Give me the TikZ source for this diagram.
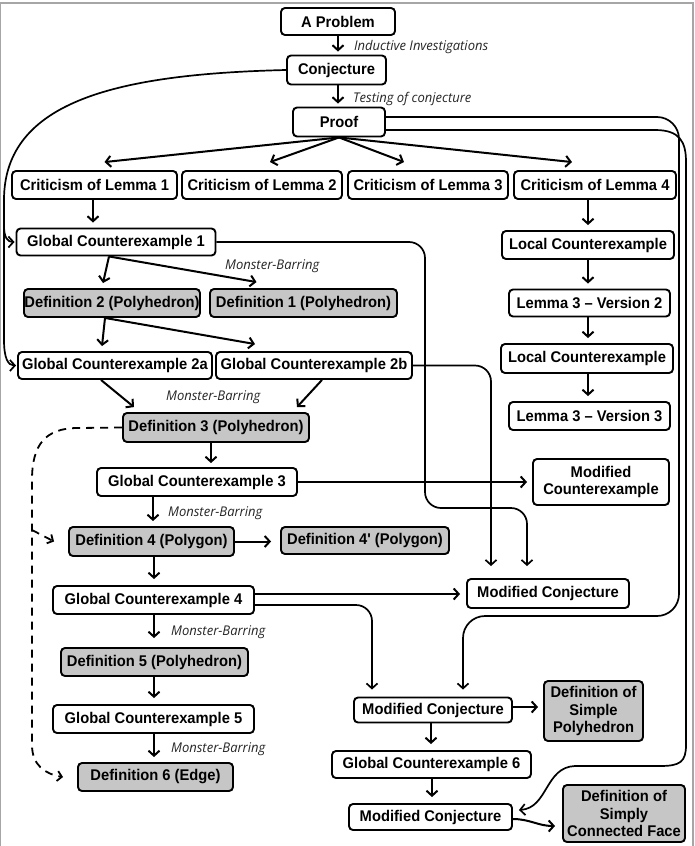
\documentclass[tikz,border=0pt]{standalone}
\usepackage{fontspec}
\setmainfont{Liberation Sans}[Ligatures=TeXOff,FakeStretch=0.95]
\newfontfamily\labfont{Open Sans}[FakeStretch=0.97]
\usetikzlibrary{arrows.meta,calc}
\definecolor{boxgray}{RGB}{198,198,198}
\newcommand{\bxfont}{\fontsize{15.5}{17.5}\selectfont\bfseries}
\newcommand{\lbfont}{\labfont\itshape\fontsize{13.4}{15}\selectfont}
\begin{document}
\begin{tikzpicture}[x=1pt,y=-1pt,
  box/.style={draw,line width=1.9pt,rounded corners=4pt,fill=white,inner sep=0pt,align=center,font=\bxfont},
  gbox/.style={box,fill=boxgray},
  arr/.style={line width=2pt,-{Straight Barb[length=5pt,width=11pt]}},
  longarr/.style={line width=1.7pt,rounded corners=16pt,-{Straight Barb[length=5pt,width=11pt]}},
  longline/.style={line width=1.7pt,-{Straight Barb[length=5pt,width=11pt]}},
  dasharr/.style={line width=1.8pt,dash pattern=on 8pt off 6pt,-{Straight Barb[length=4.5pt,width=10pt]}},
  lab/.style={anchor=west,inner sep=0pt,font=\lbfont,text=black!85}]
\useasboundingbox (0,0) rectangle (695,846);
% frame
\draw[gray!70,line width=1.2pt] (0.5,846) -- (0.5,3) -- (693,3) -- (693,846);

% nodes
\node[box,minimum width=114,minimum height=27] (prob) at (338,21.5) {A Problem};
\node[box,minimum width=99,minimum height=29] (conj) at (336.5,70) {Conjecture};
\node[box,minimum width=92,minimum height=29] (proof) at (339,122) {Proof};
\node[box,minimum width=165,minimum height=28] (c1) at (94.5,185) {Criticism of Lemma 1};
\node[box,minimum width=160,minimum height=28] (c2) at (262,185) {Criticism of Lemma 2};
\node[box,minimum width=160,minimum height=28] (c3) at (428,185) {Criticism of Lemma 3};
\node[box,minimum width=162,minimum height=28] (c4) at (595,185) {Criticism of Lemma 4};

\node[box,minimum width=199,minimum height=27] (gc1) at (116,242) {Global Counterexample 1};
\node[box,minimum width=172,minimum height=28] (lc1) at (588,245) {Local Counterexample};
\node[gbox,minimum width=176,minimum height=28] (def2) at (112,303) {Definition 2 (Polyhedron)};
\node[gbox,minimum width=187,minimum height=28] (def1) at (303.5,303) {Definition 1 (Polyhedron)};
\node[box,minimum width=161,minimum height=27] (l3v2) at (589.5,303) {Lemma 3 – Version 2};
\node[box,minimum width=172,minimum height=29] (lc2) at (587,358.5) {Local Counterexample};
\node[box,minimum width=161,minimum height=28] (l3v3) at (589.5,416) {Lemma 3 – Version 3};
\node[box,minimum width=194,minimum height=27] (gc2a) at (115,365.5) {Global Counterexample 2a};
\node[box,minimum width=196,minimum height=27] (gc2b) at (314,365.5) {Global Counterexample 2b};
\node[gbox,minimum width=186,minimum height=29] (def3) at (216,427.5) {Definition 3 (Polyhedron)};
\node[box,minimum width=200,minimum height=28] (gc3) at (197,482) {Global Counterexample 3};
\node[box,minimum width=136,minimum height=46] (mce) at (601,482) {Modified\\Counterexample};
\node[gbox,minimum width=165,minimum height=29] (def4) at (151.5,541.5) {Definition 4 (Polygon)};
\node[gbox,minimum width=168,minimum height=27] (def4p) at (365,540.5) {Definition 4' (Polygon)};
\node[box,minimum width=201,minimum height=28] (gc4) at (153.5,600) {Global Counterexample 4};
\node[box,minimum width=162,minimum height=29] (mc1) at (548,593.5) {Modified Conjecture};
\node[gbox,minimum width=187,minimum height=28] (def5) at (154.5,662) {Definition 5 (Polyhedron)};
\node[box,minimum width=201,minimum height=28] (gc5) at (153.5,719) {Global Counterexample 5};
\node[gbox,minimum width=155,minimum height=28] (def6) at (155.5,777) {Definition 6 (Edge)};
\node[box,minimum width=158,minimum height=25] (mc2) at (433,710) {Modified Conjecture};
\node[gbox,minimum width=99,minimum height=60] (dsp) at (593.5,711) {Definition of\\Simple\\Polyhedron};
\node[box,minimum width=199,minimum height=27] (gc6) at (431.5,764.5) {Global Counterexample 6};
\node[box,minimum width=163,minimum height=26] (mc3) at (430.5,817) {Modified Conjecture};
\node[gbox,minimum width=122,minimum height=57] (dscf) at (624,813.5) {Definition of\\Simply\\Connected Face};

% labels
\node[lab] (l1) at (354,47.5) {Inductive Investigations};
\node[lab] (l2) at (353,99) {Testing of conjecture};
\node[lab] (mb1) at (225,266) {Monster-Barring};
\node[lab] (mb2) at (166,397) {Monster-Barring};
\node[lab] (mb3) at (168,513) {Monster-Barring};
\node[lab] (mb4) at (171,632) {Monster-Barring};
\node[lab] (mb5) at (171,749) {Monster-Barring};

% main chain
\draw[arr] (prob.south) -- ($(conj.north)+(1.5,-3)$);
\draw[arr] ($(conj.south)+(1.5,0)$) -- ($(proof.north)+(-1,-3)$);
\draw[arr] (proof.south) -- ($(c1.north)+(10,-8)$);
\draw[arr] (proof.south) -- ($(c2.north)+(8,-8)$);
\draw[arr] (proof.south) -- ($(c3.north)+(-24,-8)$);
\draw[arr] (proof.south) -- ($(c4.north)+(-23,-8)$);

\draw[arr] ($(c1.south)+(-1.5,0)$) -- ($(gc1.north)+(-23,-5)$);
\draw[arr] ($(lc1.north |- c4.south)$) -- ($(lc1.north)+(0,-5)$);
\draw[arr] (lc1.south) -- ($(l3v2.north -| lc1.south)+(0,-5)$);
\draw[arr] ($(l3v2.south -| lc1.south)$) -- ($(lc2.north -| lc1.south)+(0,-5)$);
\draw[arr] ($(lc2.south -| lc1.south)$) -- ($(l3v3.north -| lc1.south)+(0,-5)$);

\draw[arr] ($(gc1.south)+(-7,0)$) -- ($(def2.north)+(-9,-5)$);
\draw[arr] ($(gc1.south)+(-7,0)$) -- ($(def1.north)+(-47,-6)$);
\draw[arr] ($(def2.south)+(-7,0)$) -- ($(gc2a.north)+(-13,-5)$);
\draw[arr] ($(def2.south)+(-7,0)$) -- ($(gc2b.north)+(-59,-7)$);
\draw[arr] ($(gc2a.south)+(-14,0)$) -- ($(def3.north)+(-82,-5)$);
\draw[arr] ($(gc2b.south)+(8,0)$) -- ($(def3.north)+(81,-5)$);
\draw[arr] ($(def3.south)+(-5,0)$) -- ($(gc3.north)+(14,-4)$);
\draw[arr] (gc3.east) -- ($(mce.west)+(-5,0)$);
\draw[arr] ($(gc3.south)+(-44,0)$) -- ($(def4.north)+(1.5,-5)$);
\draw[arr] (def4.east) -- ($(def4p.west)+(-9,1)$);
\draw[arr] ($(def4.south)+(2.5,0)$) -- ($(gc4.north)+(0.5,-6)$);
\draw[arr] ($(gc4.east)+(0,-6)$) -- ($(mc1.west)+(-6,0.5)$);
\draw[arr] ($(gc4.south)+(0.5,0)$) -- ($(def5.north)+(-0.5,-9)$);
\draw[arr] ($(def5.south)+(-0.5,0)$) -- ($(gc5.north)+(0.5,-6)$);
\draw[arr] ($(gc5.south)+(0.5,0)$) -- ($(def6.north)+(-1.5,-5)$);

\draw[arr] ($(mc2.east)+(0,-3)$) -- ($(dsp.west)+(-5,-4)$);
\draw[arr] ($(mc2.south)+(-2,0)$) -- ($(gc6.north)+(-0.5,-6)$);
\draw[arr] ($(gc6.south)+(0.5,0)$) -- ($(mc3.north)+(1.5,-6)$);
\draw[arr] ($(mc3.east)+(0,2)$) to[out=0,in=180] ($(dscf.west)+(-7,12.5)$);

% long connectors
\draw[longarr] (gc1.east) -| (425,508) -| ($(mc1.north)+(-21,-12)$);
\draw[longarr] (gc2b.east) -| ($(mc1.north)+(-57,-12)$);
\draw[longarr] ($(gc4.east)+(0,5)$) -| ($(mc2.north)+(-61,-7)$);
\draw[longarr,rounded corners=22pt] ($(proof.east)+(0,-5)$) -| (679,616) -| ($(mc2.north)+(30,-7)$);
\draw[longline]
  ($(proof.east)+(0,8)$) -- (655,130) .. controls (680,130) and (686,142) .. (686,162)
  -- (686,745) .. controls (686,762) and (680,766) .. (660,766)
  -- (575,766) .. controls (545,767) and (548,808) .. ($(mc3.east)+(6,-7)$);

% conjecture loop
\coordinate (j1) at (4,226);
\draw[longline]
  (conj.west) .. controls (120,74) and (4,100) .. (4,200)
  -- (4,340) .. controls (4,358) and (8,365.5) .. ($(gc2a.west)+(-1,0)$);
\draw[longline]
  (j1) .. controls (4,238) and (8,242) .. ($(gc1.west)+(-1,0)$);

% dashed
\coordinate (j2) at (32,530);
\draw[dasharr] (def3.west) -- (78,428) .. controls (45,428) and (32,445) .. (32,480)
  -- (32,745) .. controls (32,765) and (45,774) .. ($(def6.west)+(-14,0)$);
\draw[dasharr] (j2) -- ($(def4.west)+(-14,0)$);
\end{tikzpicture}
\end{document}
